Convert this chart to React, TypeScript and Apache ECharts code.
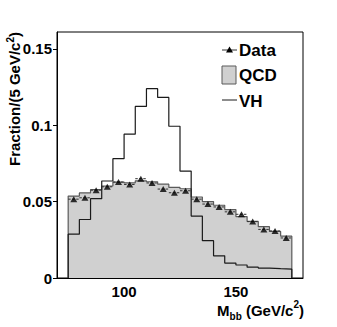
import React, { useEffect, useRef } from "react";
import * as echarts from "echarts";

// Histogram binning (GeV/c^2)
const binLow = 75;
const binWidth = 5;
const xTicks = [100, 150];
const yTicks = [0, 0.05, 0.1, 0.15];

// Values per bin (20 bins, 75..175)
const dataValues = [
  0.0516, 0.0525, 0.0575, 0.0597, 0.0628, 0.0612, 0.065, 0.0622, 0.0582, 0.0558,
  0.0571, 0.0516, 0.0484, 0.0465, 0.0433, 0.0417, 0.0369, 0.0318, 0.0308, 0.0262,
];
const qcdValues = [
  0.0536, 0.0557, 0.0578, 0.0602, 0.0628, 0.0623, 0.0636, 0.063, 0.0614, 0.0593,
  0.0584, 0.053, 0.05, 0.0476, 0.0448, 0.0402, 0.037, 0.0336, 0.0305, 0.0274,
];
const vhValues = [
  0.0287, 0.0383, 0.0519, 0.0635, 0.0781, 0.0941, 0.1123, 0.1239, 0.1182, 0.0993,
  0.07, 0.0405, 0.0244, 0.0145, 0.0098, 0.0085, 0.0071, 0.0065, 0.0061, 0.0058,
];

const FONT = "Liberation Sans, Arial, Helvetica, sans-serif";

function stepData(vals: number[]) {
  const pts: [number, number][] = [[binLow, 0]];
  vals.forEach((v, i) => pts.push([binLow + i * binWidth, v]));
  const hi = binLow + vals.length * binWidth;
  pts.push([hi, vals[vals.length - 1]]);
  pts.push([hi, 0]);
  return pts;
}

export default function App() {
  const ref = useRef<HTMLDivElement>(null);
  useEffect(() => {
    if (!ref.current) return;
    const chart = echarts.init(ref.current, undefined, { renderer: "svg" });
    const centers = dataValues.map((v, i) => [binLow + (i + 0.5) * binWidth, v]);
    chart.setOption({
      animation: false,
      backgroundColor: "#fff",
      grid: {
        left: 57,
        right: 34,
        top: 32,
        bottom: 49,
        show: true,
        borderColor: "#000",
        borderWidth: 1,
        backgroundColor: "transparent",
      },
      xAxis: {
        type: "value",
        min: 70,
        max: 180,
        axisLine: { show: true, onZero: false, lineStyle: { color: "#000", width: 1 } },
        splitLine: { show: false },
        axisTick: {
          show: true,
          inside: true,
          length: 7,
          customValues: xTicks,
          lineStyle: { color: "#000" },
        },
        axisLabel: {
          customValues: xTicks,
          fontFamily: FONT,
          fontWeight: "bold",
          fontSize: 15,
          color: "#000",
          margin: 6,
        },
      },
      yAxis: {
        type: "value",
        min: 0,
        max: 0.161,
        axisLine: { show: true, lineStyle: { color: "#000", width: 1 } },
        splitLine: { show: false },
        axisTick: {
          show: true,
          inside: false,
          length: 4,
          customValues: yTicks,
          lineStyle: { color: "#000" },
        },
        axisLabel: {
          customValues: yTicks,
          formatter: (v: number) => String(Number(v.toFixed(3))),
          fontFamily: FONT,
          fontWeight: "bold",
          fontSize: 15,
          color: "#000",
          margin: 5,
        },
      },
      series: [
        {
          name: "QCD",
          type: "line",
          step: "end",
          data: stepData(qcdValues),
          symbol: "none",
          lineStyle: { color: "#5a5a5a", width: 1.2 },
          areaStyle: { color: "#d0d0d0", opacity: 1 },
          z: 2,
        },
        {
          name: "VH",
          type: "line",
          step: "end",
          data: stepData(vhValues),
          symbol: "none",
          lineStyle: { color: "#1a1a1a", width: 1.2 },
          z: 3,
        },
        {
          name: "DataErr",
          type: "custom",
          data: centers,
          renderItem: (params: any, api: any) => {
            const x = api.value(0);
            const y = api.value(1);
            const l = api.coord([x - binWidth / 2, y]);
            const r = api.coord([x + binWidth / 2, y]);
            return {
              type: "line",
              shape: { x1: l[0], y1: l[1], x2: r[0], y2: r[1] },
              style: { stroke: "#333", lineWidth: 1, lineDash: [2.5, 1.5] },
            };
          },
          z: 4,
        },
        {
          name: "Data",
          type: "scatter",
          data: centers,
          symbol: "triangle",
          symbolSize: [7, 6],
          itemStyle: { color: "#000" },
          z: 5,
        },
      ],
      graphic: [
        // Legend: Data
        {
          type: "line",
          shape: { x1: 222, y1: 50, x2: 237, y2: 50 },
          style: { stroke: "#333", lineWidth: 1 },
        },
        {
          type: "polygon",
          shape: { points: [[229.5, 46.5], [226, 52.5], [233, 52.5]] },
          style: { fill: "#000" },
        },
        {
          type: "text",
          x: 239,
          y: 50,
          style: {
            text: "Data",
            font: `bold 17px ${FONT}`,
            fill: "#000",
            textVerticalAlign: "middle",
          },
        },
        // Legend: QCD
        {
          type: "rect",
          shape: { x: 222, y: 66, width: 14, height: 18 },
          style: { fill: "#d0d0d0", stroke: "#5a5a5a", lineWidth: 1 },
        },
        {
          type: "text",
          x: 239,
          y: 75.5,
          style: {
            text: "QCD",
            font: `bold 17px ${FONT}`,
            fill: "#000",
            textVerticalAlign: "middle",
          },
        },
        // Legend: VH
        {
          type: "line",
          shape: { x1: 222, y1: 100, x2: 237, y2: 100 },
          style: { stroke: "#1a1a1a", lineWidth: 1 },
        },
        {
          type: "text",
          x: 239,
          y: 101.5,
          style: {
            text: "VH",
            font: `bold 17px ${FONT}`,
            fill: "#000",
            textVerticalAlign: "middle",
          },
        },
        // Y axis title
        {
          type: "text",
          x: 14,
          y: 99,
          rotation: Math.PI / 2,
          style: {
            text: "Fraction/(5 GeV/c{sup|2})",
            font: `bold 15px ${FONT}`,
            fill: "#000",
            textAlign: "center",
            textVerticalAlign: "middle",
            rich: {
              sup: {
                fontSize: 10,
                fontWeight: "bold",
                fontFamily: FONT,
                verticalAlign: "top",
                lineHeight: 18,
              },
            },
          },
        },
        // X axis title
        {
          type: "text",
          x: 304,
          y: 310,
          style: {
            text: "M{sub|bb} (GeV/c{sup|2})",
            font: `bold 15px ${FONT}`,
            fill: "#000",
            textAlign: "right",
            textVerticalAlign: "middle",
            rich: {
              sub: {
                fontSize: 10,
                fontWeight: "bold",
                fontFamily: FONT,
                verticalAlign: "bottom",
                lineHeight: 22,
              },
              sup: {
                fontSize: 10,
                fontWeight: "bold",
                fontFamily: FONT,
                verticalAlign: "top",
                lineHeight: 22,
              },
            },
          },
        },
      ],
    });
    return () => chart.dispose();
  }, []);
  return (
    <div
      ref={ref}
      style={{ position: "absolute", left: 0, top: 0, width: 337, height: 327 }}
    />
  );
}
